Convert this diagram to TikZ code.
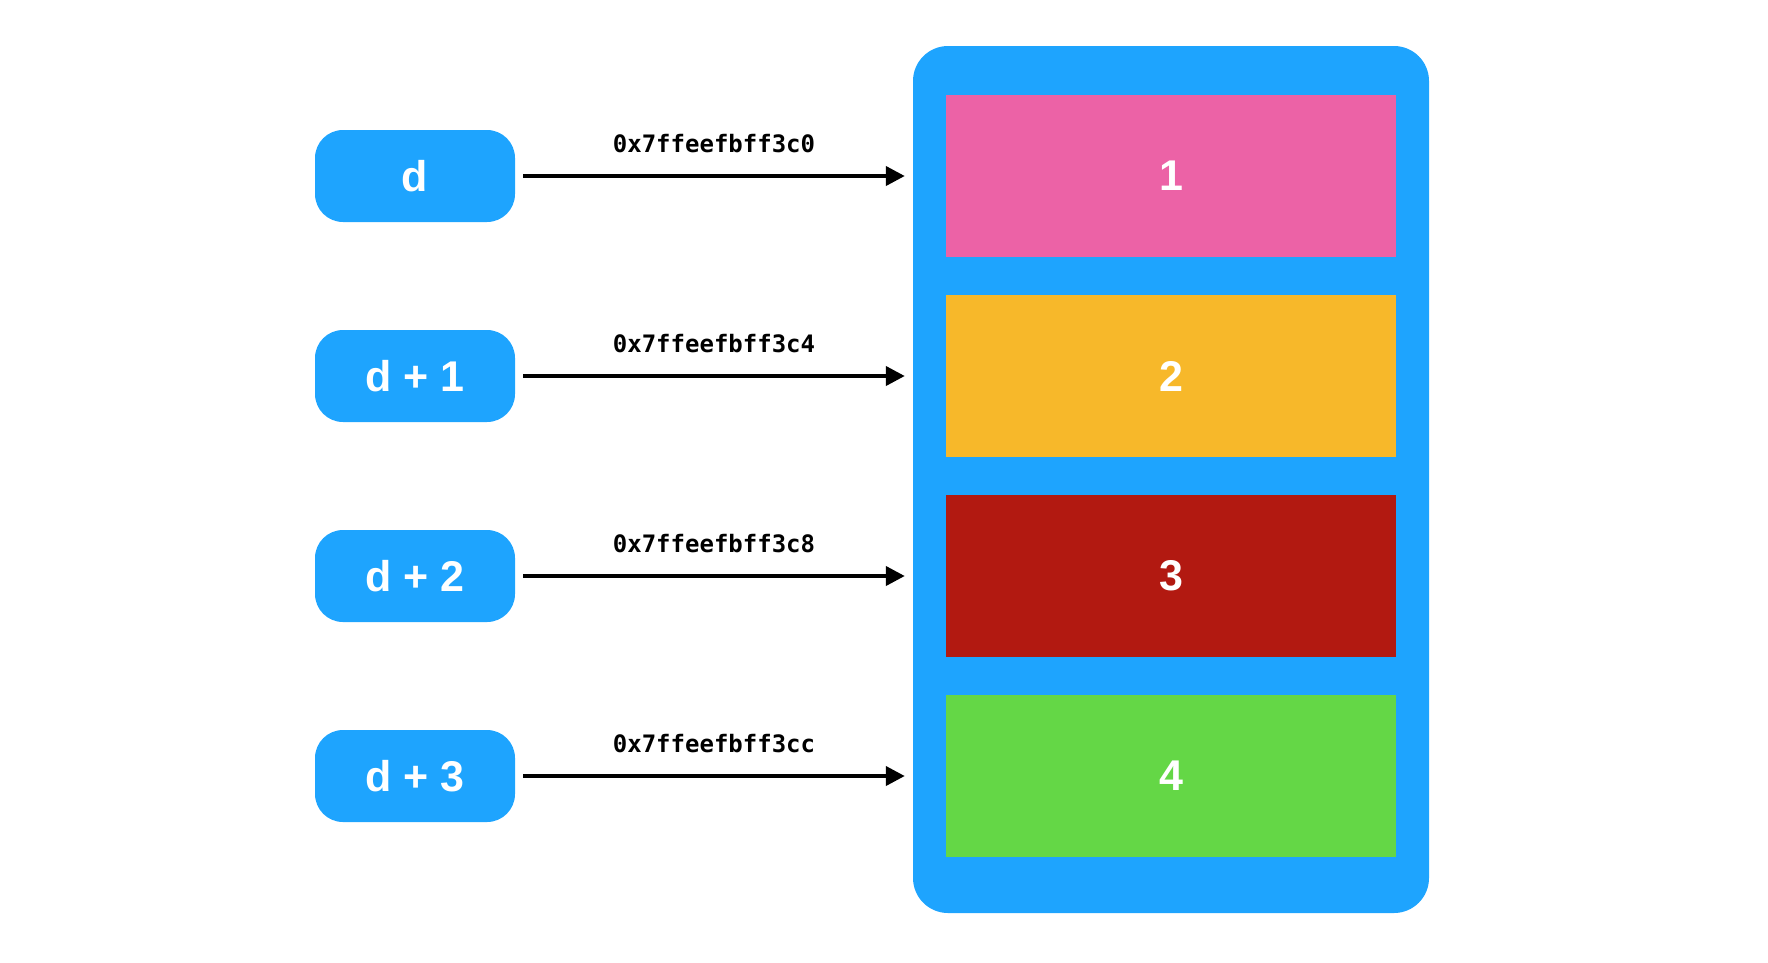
\documentclass[tikz,border=0pt]{standalone}
\usepackage{fontspec}
\setmainfont{Liberation Sans}
\newfontfamily\addrfont{DejaVu Sans Mono}
\usetikzlibrary{arrows.meta,positioning}
\definecolor{memblue}{RGB}{30,164,254}
\definecolor{cellpink}{RGB}{236,98,166}
\definecolor{cellorange}{RGB}{247,184,42}
\definecolor{cellred}{RGB}{178,25,17}
\definecolor{cellgreen}{RGB}{100,215,70}
\tikzset{
  ptrbox/.style={fill=memblue, rounded corners=28pt, minimum width=200pt,
    minimum height=92pt, text=white, font=\fontsize{43}{48}\selectfont\bfseries},
  cell/.style={minimum width=450pt, minimum height=162pt, text=white,
    font=\fontsize{43}{48}\selectfont\bfseries},
  addr/.style={font=\addrfont\bfseries\fontsize{24}{28}\selectfont,
    inner sep=0pt, above=21pt},
  ptr/.style={line width=4pt, -{Triangle[length=19pt,width=19pt]},
    shorten <=8pt, shorten >=8pt}
}
\begin{document}
\begin{tikzpicture}[x=1pt,y=-1pt]
    \useasboundingbox (0,0) rectangle (1768,962);
    % memory block
    \node[fill=memblue, rounded corners=35pt, minimum width=516pt,
      minimum height=867pt] (mem) at (1171,479.5) {};
    \node[cell, fill=cellpink] (m0) at (1171,176) {1};
    \node[cell, fill=cellorange] (m1) at (1171,376) {2};
    \node[cell, fill=cellred] (m2) at (1171,576) {3};
    \node[cell, fill=cellgreen] (m3) at (1171,776) {4};
    % pointers
    \node[ptrbox] (d0) at (415,176) {d};
    \node[ptrbox] (d1) at (415,376) {d + 1};
    \node[ptrbox] (d2) at (415,576) {d + 2};
    \node[ptrbox] (d3) at (415,776) {d + 3};
    \draw[ptr] (d0.east) -- node[addr] {0x7ffeefbff3c0} (d0.east -| mem.west);
    \draw[ptr] (d1.east) -- node[addr] {0x7ffeefbff3c4} (d1.east -| mem.west);
    \draw[ptr] (d2.east) -- node[addr] {0x7ffeefbff3c8} (d2.east -| mem.west);
    \draw[ptr] (d3.east) -- node[addr] {0x7ffeefbff3cc} (d3.east -| mem.west);
\end{tikzpicture}
\end{document}
